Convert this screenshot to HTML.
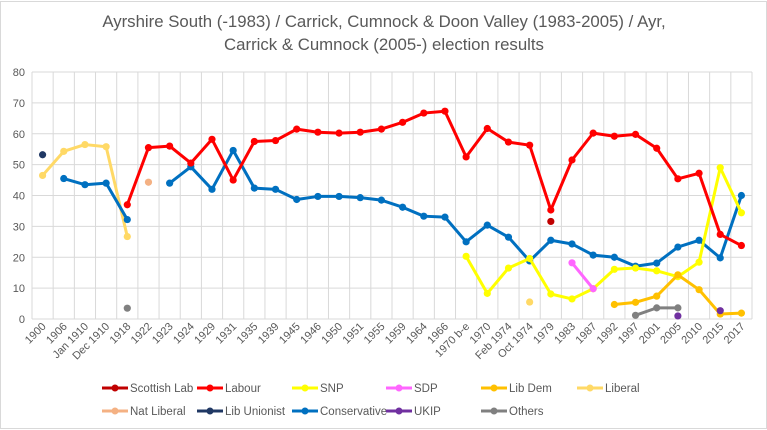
<!DOCTYPE html>
<html><head><meta charset="utf-8"><style>
html,body{margin:0;padding:0;background:#fff;}
svg{display:block;font-family:"Liberation Sans",sans-serif;}
</style></head><body>
<svg id="c" width="767" height="430" xmlns="http://www.w3.org/2000/svg">
<rect x="0.5" y="1.5" width="766" height="427" fill="#fff" stroke="#d9d9d9"/>
<text x="384" y="27" text-anchor="middle" font-size="16.8" fill="#595959">Ayrshire South (-1983) / Carrick, Cumnock &amp; Doon Valley (1983-2005) / Ayr,</text>
<text x="384" y="50" text-anchor="middle" font-size="16.8" fill="#595959">Carrick &amp; Cumnock (2005-) election results</text>
<g id="g"></g>
</svg>
<script>
var NS="http://www.w3.org/2000/svg",g=document.getElementById("g");
function el(t,a,txt){var e=document.createElementNS(NS,t);for(var k in a)e.setAttribute(k,a[k]);if(txt!=null)e.textContent=txt;g.appendChild(e);return e;}
var L=32,R=752,T=72,B=319,N=34,W=(R-L)/N;
function X(i){return L+W*(i+0.5);}function Y(v){return B-v*(B-T)/80;}
for(var v=0;v<=80;v+=10){el("line",{x1:L,x2:R,y1:Y(v),y2:Y(v),stroke:"#d9d9d9","stroke-width":1});
el("text",{x:25,y:Y(v)+4,"text-anchor":"end","font-size":11,fill:"#595959"},v);}
for(var i=0;i<=N;i++){var x=L+W*i;el("line",{x1:x,x2:x,y1:T,y2:B,stroke:"#d9d9d9","stroke-width":1});}
var cats=["1900","1906","Jan 1910","Dec 1910","1918","1922","1923","1924","1929","1931","1935","1939","1945","1946","1950","1951","1955","1959","1964","1966","1970 b-e","1970","Feb 1974","Oct 1974","1979","1983","1987","1992","1997","2001","2005","2010","2015","2017"];
cats.forEach(function(c,i){var x=X(i)+4,y=327;el("text",{x:x,y:y,"text-anchor":"end","font-size":11,fill:"#595959",transform:"rotate(-45 "+x+" "+y+")"},c);});
var S=[
["#ffd966",[[0,46.5],[1,54.3],[2,56.5],[3,55.8],[4,26.7]]],
["#ffd966",[[23,5.5]]],
["#0070c0",[[1,45.5],[2,43.5],[3,44],[4,32.2]]],
["#0070c0",[[6,44],[7,49.3],[8,42],[9,54.6],[10,42.4],[11,42],[12,38.7],[13,39.7],[14,39.7],[15,39.3],[16,38.5],[17,36.2],[18,33.3],[19,33],[20,25],[21,30.4],[22,26.5],[23,18.8],[24,25.5],[25,24.3],[26,20.7],[27,20],[28,17.1],[29,18.1],[30,23.3],[31,25.5],[32,19.8],[33,40]]],
["#ffff00",[[20,20.3],[21,8.3],[22,16.5],[23,19.6],[24,8.1],[25,6.5],[26,9.8],[27,16.1],[28,16.5],[29,15.6],[30,13.7],[31,18.4],[32,49],[33,34.4]]],
["#ff66ff",[[25,18.2],[26,9.8]]],
["#ffc000",[[27,4.7],[28,5.4],[29,7.4],[30,14.3],[31,9.5],[32,1.6],[33,1.9]]],
["#ff0000",[[4,37],[5,55.5],[6,56],[7,50.5],[8,58.2],[9,45],[10,57.5],[11,57.8],[12,61.5],[13,60.5],[14,60.2],[15,60.5],[16,61.5],[17,63.7],[18,66.7],[19,67.3],[20,52.5],[21,61.7],[22,57.3],[23,56.3],[24,35.3],[25,51.5],[26,60.2],[27,59.2],[28,59.8],[29,55.3],[30,45.4],[31,47.2],[32,27.4],[33,23.8]]],
["#c00000",[[24,31.6]]],
["#f4b183",[[5,44.3]]],
["#203864",[[0,53.2]]],
["#808080",[[4,3.5]]],
["#808080",[[28,1.2],[29,3.6],[30,3.6]]],
["#7030a0",[[30,1]]],
["#7030a0",[[32,2.7]]]
];
S.forEach(function(s){var c=s[0],p=s[1];
if(p.length>1)el("polyline",{points:p.map(function(q){return X(q[0])+","+Y(q[1]);}).join(" "),fill:"none",stroke:c,"stroke-width":3,"stroke-linejoin":"round"});
p.forEach(function(q){el("circle",{cx:X(q[0]),cy:Y(q[1]),r:3.6,fill:c});});});
var leg=[["Scottish Lab","#c00000",102,388],["Labour","#ff0000",197,388],["SNP","#ffff00",292,388],["SDP","#ff66ff",386,388],["Lib Dem","#ffc000",481,388],["Liberal","#ffd966",577,388],
["Nat Liberal","#f4b183",102,411],["Lib Unionist","#203864",197,411],["Conservative","#0070c0",292,411],["UKIP","#7030a0",386,411],["Others","#808080",481,411]];
leg.forEach(function(l){el("line",{x1:l[2],x2:l[2]+26,y1:l[3],y2:l[3],stroke:l[1],"stroke-width":3});
el("circle",{cx:l[2]+13,cy:l[3],r:3.5,fill:l[1]});
el("text",{x:l[2]+28,y:l[3]+4,"font-size":11.5,fill:"#595959"},l[0]);});
</script>
</body></html>
